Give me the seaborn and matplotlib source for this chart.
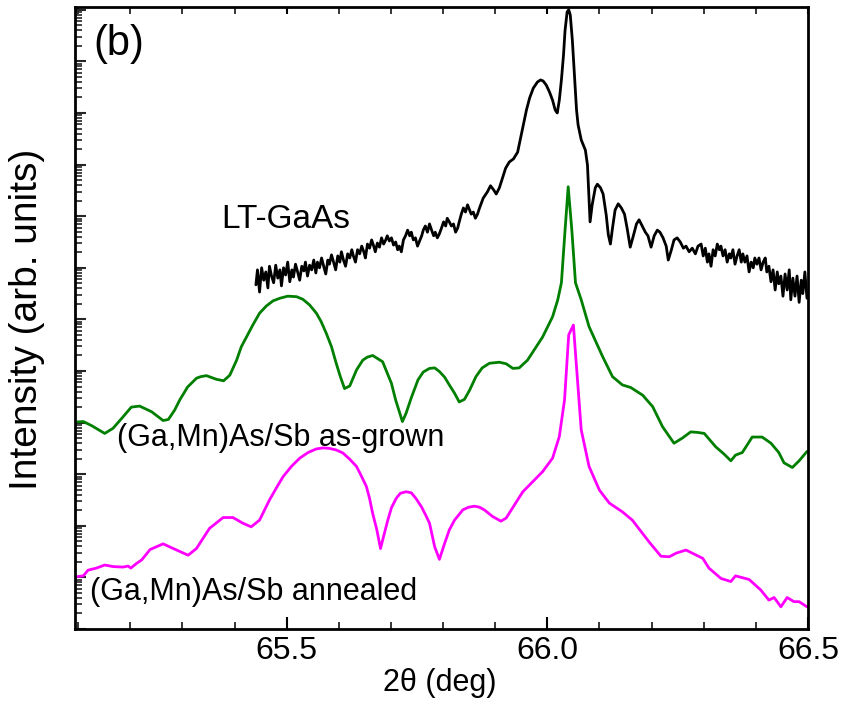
import numpy as np
import pandas as pd
import matplotlib
matplotlib.use("Agg")
import matplotlib.pyplot as plt
from matplotlib.ticker import MultipleLocator, LogLocator, NullFormatter, FixedLocator
import seaborn as sns

# ---------------- data (2theta in deg, log10 of intensity) ----------------
lt_x = [65.441, 65.444, 65.448, 65.452, 65.456, 65.460, 65.464, 65.467, 65.471, 65.475,
        65.479, 65.483, 65.487, 65.490, 65.494, 65.498, 65.502, 65.506, 65.510, 65.513,
        65.517, 65.521, 65.525, 65.529, 65.533, 65.536, 65.540, 65.544, 65.548, 65.552,
        65.556, 65.559, 65.563, 65.567, 65.571, 65.575, 65.579, 65.582, 65.586, 65.590,
        65.594, 65.598, 65.602, 65.605, 65.609, 65.613, 65.617, 65.621, 65.625, 65.628,
        65.632, 65.636, 65.640, 65.644, 65.648, 65.651, 65.655, 65.659, 65.663, 65.667,
        65.670, 65.674, 65.678, 65.682, 65.686, 65.690, 65.693, 65.697, 65.701, 65.705,
        65.709, 65.713, 65.716, 65.720, 65.724, 65.728, 65.732, 65.736, 65.739, 65.743,
        65.747, 65.751, 65.755, 65.759, 65.762, 65.766, 65.770, 65.774, 65.778, 65.782,
        65.785, 65.789, 65.793, 65.797, 65.801, 65.805, 65.808, 65.812, 65.816, 65.820,
        65.824, 65.828, 65.831, 65.835, 65.839, 65.843, 65.847, 65.851, 65.854, 65.858,
        65.862, 65.866, 65.870, 65.877, 65.885, 65.891, 65.897, 65.902, 65.908, 65.914,
        65.920, 65.927, 65.935, 65.943, 65.948, 65.954, 65.960, 65.966, 65.973, 65.981,
        65.987, 65.992, 65.998, 66.004, 66.010, 66.015, 66.019, 66.023, 66.027, 66.031,
        66.034, 66.038, 66.041, 66.044, 66.048, 66.052, 66.056, 66.059, 66.065, 66.073,
        66.077, 66.080, 66.082, 66.086, 66.092, 66.096, 66.102, 66.107, 66.113, 66.117,
        66.121, 66.125, 66.130, 66.136, 66.142, 66.148, 66.153, 66.159, 66.165, 66.171,
        66.176, 66.182, 66.188, 66.193, 66.199, 66.205, 66.211, 66.216, 66.222, 66.228,
        66.232, 66.238, 66.243, 66.249, 66.255, 66.261, 66.266, 66.272, 66.278, 66.284,
        66.289, 66.295, 66.299, 66.303, 66.307, 66.310, 66.314, 66.318, 66.322, 66.326,
        66.330, 66.333, 66.337, 66.341, 66.345, 66.349, 66.352, 66.356, 66.360, 66.364,
        66.368, 66.372, 66.375, 66.379, 66.383, 66.387, 66.391, 66.395, 66.398, 66.402,
        66.406, 66.410, 66.414, 66.418, 66.421, 66.425, 66.429, 66.433, 66.437, 66.441,
        66.444, 66.448, 66.452, 66.456, 66.460, 66.464, 66.467, 66.471, 66.475, 66.479,
        66.483, 66.487, 66.490, 66.494, 66.498]
lt_log = [6.67, 6.96, 6.53, 7.00, 6.76, 6.92, 6.61, 7.03, 6.84, 6.71,
          7.05, 6.80, 6.96, 6.65, 7.00, 6.86, 7.11, 6.73, 6.96, 6.82,
          7.07, 6.92, 6.76, 7.03, 6.94, 7.11, 6.84, 7.05, 6.96, 7.15,
          6.90, 7.11, 7.00, 7.19, 7.03, 6.88, 7.15, 7.07, 7.25, 7.11,
          6.96, 7.23, 7.11, 7.31, 7.15, 7.03, 7.27, 7.19, 7.35, 7.23,
          7.11, 7.35, 7.27, 7.42, 7.31, 7.19, 7.46, 7.38, 7.54, 7.42,
          7.31, 7.48, 7.40, 7.58, 7.46, 7.54, 7.62, 7.52, 7.58, 7.44,
          7.50, 7.35, 7.42, 7.31, 7.54, 7.62, 7.73, 7.62, 7.69, 7.54,
          7.58, 7.42, 7.52, 7.62, 7.73, 7.81, 7.69, 7.85, 7.73, 7.62,
          7.69, 7.58, 7.66, 7.77, 7.89, 7.81, 7.96, 7.89, 7.81, 7.85,
          7.69, 7.77, 7.89, 8.04, 8.16, 8.08, 8.22, 8.12, 8.04, 8.08,
          7.96, 8.04, 8.16, 8.35, 8.47, 8.59, 8.51, 8.43, 8.55, 8.74,
          8.93, 9.05, 9.11, 9.24, 9.48, 9.77, 10.06, 10.29, 10.48, 10.60,
          10.64, 10.62, 10.54, 10.41, 10.25, 10.06, 10.00, 10.25, 10.64, 11.12,
          11.60, 11.96, 12.00, 11.90, 11.41, 10.74, 10.06, 9.77, 9.48, 9.28,
          8.99, 8.31, 7.89, 8.22, 8.55, 8.62, 8.55, 8.43, 8.02, 7.64,
          7.46, 7.77, 8.12, 8.24, 8.16, 8.04, 7.77, 7.40, 7.62, 7.85,
          7.93, 7.81, 7.69, 7.62, 7.40, 7.62, 7.73, 7.69, 7.58, 7.42,
          7.15, 7.35, 7.54, 7.58, 7.50, 7.38, 7.42, 7.31, 7.38, 7.27,
          7.42, 7.46, 7.23, 7.38, 7.11, 7.27, 7.03, 7.35, 7.23, 7.46,
          7.35, 7.42, 7.23, 7.35, 7.11, 7.27, 7.19, 7.35, 7.07, 7.23,
          7.35, 7.11, 7.27, 7.11, 7.23, 6.92, 7.11, 7.00, 7.19, 7.07,
          7.19, 6.96, 7.11, 7.19, 6.92, 7.03, 6.73, 6.96, 6.57, 6.92,
          6.69, 6.84, 6.45, 6.88, 6.57, 6.96, 6.38, 6.80, 6.45, 6.84,
          6.33, 6.76, 6.50, 6.92, 6.41]

asg_x = [65.094, 65.110, 65.126, 65.151, 65.167, 65.186, 65.202, 65.218, 65.241, 65.263,
         65.273, 65.285, 65.295, 65.310, 65.327, 65.335, 65.346, 65.365, 65.379, 65.391,
         65.404, 65.413, 65.423, 65.435, 65.448, 65.461, 65.474, 65.487, 65.502, 65.519,
         65.531, 65.544, 65.557, 65.566, 65.576, 65.586, 65.595, 65.603, 65.611, 65.621,
         65.634, 65.646, 65.655, 65.665, 65.684, 65.701, 65.709, 65.722, 65.729, 65.739,
         65.752, 65.762, 65.774, 65.784, 65.793, 65.803, 65.812, 65.822, 65.831, 65.841,
         65.851, 65.863, 65.875, 65.889, 65.908, 65.921, 65.934, 65.946, 65.962, 65.991,
         66.010, 66.020, 66.027, 66.034, 66.040, 66.047, 66.054, 66.065, 66.080, 66.106,
         66.125, 66.144, 66.160, 66.183, 66.202, 66.221, 66.243, 66.259, 66.275, 66.288,
         66.301, 66.323, 66.339, 66.352, 66.361, 66.374, 66.393, 66.412, 66.429, 66.444,
         66.454, 66.470, 66.483, 66.498]
asg_log = [4.01, 4.02, 3.94, 3.79, 3.89, 4.11, 4.30, 4.32, 4.21, 4.04,
           4.06, 4.24, 4.44, 4.69, 4.86, 4.89, 4.91, 4.84, 4.81, 4.92,
           5.21, 5.47, 5.66, 5.89, 6.12, 6.26, 6.36, 6.41, 6.45, 6.44,
           6.39, 6.28, 6.12, 5.96, 5.73, 5.47, 5.15, 4.89, 4.66, 4.71,
           5.02, 5.21, 5.27, 5.30, 5.18, 4.76, 4.44, 4.02, 4.18, 4.48,
           4.83, 4.98, 5.05, 5.06, 4.99, 4.88, 4.73, 4.57, 4.40, 4.45,
           4.63, 4.89, 5.06, 5.15, 5.17, 5.14, 5.05, 5.06, 5.21, 5.66,
           6.05, 6.38, 6.71, 7.73, 8.57, 7.73, 6.71, 6.38, 5.86, 5.28,
           4.89, 4.73, 4.68, 4.53, 4.31, 3.92, 3.60, 3.70, 3.82, 3.81,
           3.79, 3.53, 3.39, 3.26, 3.37, 3.42, 3.72, 3.72, 3.60, 3.42,
           3.22, 3.13, 3.26, 3.44]

ann_x = [65.094, 65.110, 65.119, 65.135, 65.151, 65.167, 65.186, 65.196, 65.201, 65.212,
         65.222, 65.238, 65.263, 65.289, 65.311, 65.327, 65.352, 65.378, 65.397, 65.416,
         65.432, 65.448, 65.467, 65.480, 65.493, 65.509, 65.525, 65.541, 65.557, 65.570,
         65.582, 65.595, 65.608, 65.621, 65.634, 65.643, 65.653, 65.659, 65.665, 65.673,
         65.680, 65.694, 65.701, 65.710, 65.718, 65.729, 65.739, 65.748, 65.759, 65.768,
         65.774, 65.784, 65.793, 65.803, 65.812, 65.822, 65.838, 65.849, 65.860, 65.870,
         65.879, 65.895, 65.911, 65.921, 65.953, 65.991, 66.010, 66.023, 66.033, 66.041,
         66.050, 66.055, 66.065, 66.080, 66.100, 66.119, 66.144, 66.163, 66.195, 66.218,
         66.234, 66.247, 66.266, 66.278, 66.298, 66.310, 66.333, 66.352, 66.361, 66.387,
         66.409, 66.425, 66.435, 66.448, 66.460, 66.473, 66.483, 66.498]
ann_log = [1.01, 1.03, 1.14, 1.18, 1.24, 1.21, 1.20, 1.22, 1.18, 1.27,
           1.34, 1.54, 1.65, 1.53, 1.43, 1.56, 1.95, 2.16, 2.16, 2.05,
           1.98, 2.11, 2.50, 2.73, 2.95, 3.15, 3.31, 3.42, 3.49, 3.51,
           3.50, 3.47, 3.41, 3.29, 3.15, 2.97, 2.76, 2.53, 2.24, 1.92,
           1.56, 2.11, 2.35, 2.53, 2.63, 2.66, 2.64, 2.53, 2.36, 2.18,
           2.05, 1.59, 1.35, 1.66, 1.92, 2.11, 2.31, 2.36, 2.38, 2.36,
           2.31, 2.18, 2.09, 2.15, 2.66, 3.05, 3.31, 3.73, 4.44, 5.70,
           5.89, 5.21, 3.86, 3.15, 2.69, 2.44, 2.27, 2.11, 1.69, 1.41,
           1.40, 1.47, 1.53, 1.47, 1.37, 1.18, 0.98, 0.92, 1.03, 0.96,
           0.76, 0.56, 0.61, 0.43, 0.61, 0.53, 0.53, 0.43]

x_ticks = [65.5, 66.0, 66.5]
x_tick_labels = ["65.5", "66.0", "66.5"]
labels = ["LT-GaAs", "(Ga,Mn)As/Sb as-grown", "(Ga,Mn)As/Sb annealed"]
colors = ["#000000", "#007f00", "#ff00ff"]

# ---------------- figure ----------------
sns.set_theme(style="ticks")
plt.rcParams["font.family"] = ["Liberation Sans", "DejaVu Sans"]

fig = plt.figure(figsize=(8.42, 7.08), dpi=100)
ax = fig.add_axes([75 / 842, 1 - 629 / 708, (808 - 75) / 842, (629 - 7) / 708])

frames = []
for name, xs, ls in [(labels[0], lt_x, lt_log), (labels[1], asg_x, asg_log), (labels[2], ann_x, ann_log)]:
    frames.append(pd.DataFrame({"two_theta": xs, "intensity": np.power(10.0, ls), "sample": name}))
df = pd.concat(frames, ignore_index=True)

for name, col in zip(labels, colors):
    sub = df[df["sample"] == name]
    sns.lineplot(data=sub, x="two_theta", y="intensity", ax=ax, color=col,
                 linewidth=2.0, estimator=None, sort=False, legend=False)

ax.set_yscale("log")
ax.set_xlim(65.094, 66.5)
ax.set_ylim(1.0, 10 ** 12.054)

ax.xaxis.set_major_locator(FixedLocator(x_ticks))
ax.set_xticklabels(x_tick_labels)
ax.xaxis.set_minor_locator(MultipleLocator(0.1))
ax.yaxis.set_major_locator(LogLocator(base=10, numticks=30))
ax.yaxis.set_minor_locator(LogLocator(base=10, subs=np.arange(2, 10), numticks=30))
ax.yaxis.set_major_formatter(NullFormatter())
ax.yaxis.set_minor_formatter(NullFormatter())

ax.tick_params(axis="x", which="major", direction="in", length=9, width=1.5,
               labelsize=23, pad=5, top=True, bottom=True, color="black", labelcolor="black")
ax.tick_params(axis="x", which="minor", direction="in", length=5, width=1.3, top=True, bottom=True)
ax.tick_params(axis="y", which="major", direction="in", length=8, width=1.5, left=True, right=False)
ax.tick_params(axis="y", which="minor", direction="in", length=5, width=1.2, left=True, right=False)
for tl in ax.xaxis.get_major_ticks():
    tl.tick2line.set_markersize(5)

for s in ax.spines.values():
    s.set_color("black")
    s.set_linewidth(2.0)

ax.set_xlabel("2θ (deg)", fontsize=22, color="black")
ax.set_ylabel("Intensity (arb. units)", fontsize=28, color="black")
ax.xaxis.set_label_coords(0.498, -0.063)
ax.yaxis.set_label_coords(-0.041, 0.497)

ax.text(0.0246, 0.923, "(b)", transform=ax.transAxes, fontsize=30, color="black",
        ha="left", va="baseline")
ax.text(65.375, 10 ** 7.77, labels[0], fontsize=24, color="black", ha="left", va="baseline")
ax.text(65.174, 10 ** 3.55, labels[1], fontsize=22, color="black", ha="left", va="baseline")
ax.text(65.123, 10 ** 0.56, labels[2], fontsize=22, color="black", ha="left", va="baseline")

ax.set_facecolor("white")
fig.patch.set_facecolor("white")
fig.savefig("out.png", dpi=100, facecolor="white")
